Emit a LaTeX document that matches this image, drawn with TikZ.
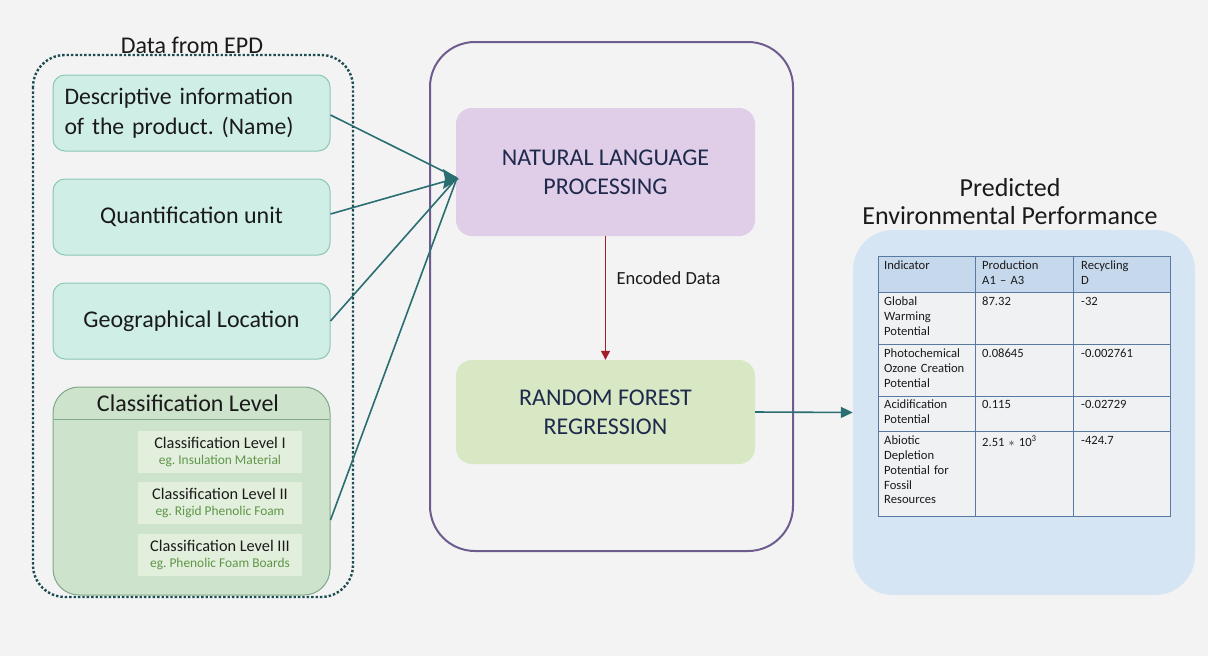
\documentclass[tikz,border=0pt]{standalone}
\usepackage{fontspec}
\setmainfont{Carlito}
\usetikzlibrary{arrows.meta,calc}
\definecolor{bg}{HTML}{F3F3F3}
\definecolor{tealfill}{HTML}{CFEEE6}
\definecolor{tealline}{HTML}{8CC6B8}
\definecolor{clsfill}{HTML}{CDE3CB}
\definecolor{clsline}{HTML}{7FA88C}
\definecolor{innerfill}{HTML}{E2EFDC}
\definecolor{subgreen}{HTML}{5E9548}
\definecolor{purpline}{HTML}{6E5C8E}
\definecolor{nlpfill}{HTML}{E0CDE8}
\definecolor{rfrfill}{HTML}{D8E8C4}
\definecolor{navy}{HTML}{1E2A4C}
\definecolor{arrteal}{HTML}{2A6E72}
\definecolor{arrred}{HTML}{A31E2A}
\definecolor{bluefill}{HTML}{D5E5F4}
\definecolor{tabhead}{HTML}{C6D8EC}
\definecolor{tabbody}{HTML}{EFF1F3}
\definecolor{tabline}{HTML}{5879A0}
\definecolor{txt}{HTML}{1A1A1A}
\frenchspacing
\tikzset{
  inbox/.style={draw=tealline,fill=tealfill,line width=1pt,rounded corners=12pt,minimum width=277pt,minimum height=76pt,inner sep=0pt,text=txt},
  subbox/.style={fill=innerfill,minimum width=164pt,minimum height=42pt,inner sep=0pt,align=center,text=txt,font=\fontsize{16.3}{17}\selectfont},
  procbox/.style={rounded corners=16pt,minimum width=299pt,inner sep=0pt,align=center,text=navy,font=\fontsize{24}{29}\selectfont},
  conn/.style={draw=arrteal,line width=1.6pt},
  cell/.style={anchor=north west,inner sep=0pt,align=left,text=txt,font=\fontsize{12.6}{14.7}\selectfont,text width=92pt},
}
\begin{document}
\begin{tikzpicture}[x=1pt,y=-1pt]
\fill[bg] (0,0) rectangle (1208,656);
\useasboundingbox (0,0) rectangle (1208,656);
% left group
\draw[arrteal!70!black,line width=2.4pt,dotted,rounded corners=32pt] (33,55) rectangle (353,597);
\node[font=\fontsize{24}{26}\selectfont,text=txt] (title) at (192,45) {Data from EPD};
\node[inbox,text width=254pt,align=left,font=\fontsize{23.7}{30}\selectfont] (b1) at (191.5,113) {Descriptive information\\of the product. (Name)};
\node[inbox,font=\fontsize{24}{26}\selectfont] (b2) at (191.5,217) {Quantification unit};
\node[inbox,font=\fontsize{24}{26}\selectfont] (b3) at (191.5,321) {Geographical Location};
\node[draw=clsline,fill=clsfill,line width=1pt,rounded corners=26pt,minimum width=277pt,minimum height=208pt,inner sep=0pt] (cls) at (191.5,491) {};
\draw[clsline,line width=0.8pt] (54,419) -- (329,419);
\node[font=\fontsize{24}{26}\selectfont,text=txt] (clst) at (188,403) {Classification Level};
\node[subbox] (c1) at (220,452) {Classification Level I\\[-1pt]{\fontsize{13.4}{15}\selectfont\color{subgreen}eg. Insulation Material}};
\node[subbox] (c2) at (220,503) {Classification Level II\\[-1pt]{\fontsize{13.4}{15}\selectfont\color{subgreen}eg. Rigid Phenolic Foam}};
\node[subbox] (c3) at (220,555) {Classification Level III\\[-1pt]{\fontsize{13.4}{15}\selectfont\color{subgreen}eg. Phenolic Foam Boards}};
% middle
\draw[purpline,line width=2pt,rounded corners=45pt] (430,42) rectangle (793,551);
\node[procbox,fill=nlpfill,minimum height=128pt] (nlp) at (605.5,172) {NATURAL LANGUAGE\\PROCESSING};
\node[procbox,fill=rfrfill,minimum height=104pt] (rfr) at (605.5,412) {RANDOM FOREST\\REGRESSION};
\draw[arrred,line width=1.3pt,-{Triangle[length=9pt,width=9pt]}] (nlp.south) -- (rfr.north);
\node[font=\fontsize{18.5}{20}\selectfont,text=txt,anchor=west] (enc) at (613,278) {Encoded Data};
\coordinate (tip) at (457,178);
\draw[conn] (b1.east) ++(0,2) -- (tip);
\draw[conn] (b2.east) ++(0,-3) -- (tip);
\draw[conn] (b3.east) -- (tip);
\draw[conn] ($(cls.east)+(0,29)$) -- (tip);
\fill[arrteal] (tip) ++(2,1) -- ++(-16,-10) -- ++(2,10) -- ++(-2,10) -- cycle;
% right
\node[font=\fontsize{26}{28}\selectfont,text=txt,align=center] (pred) at (1010,202) {Predicted\\Environmental Performance};
\node[fill=bluefill,rounded corners=40pt,minimum width=342pt,minimum height=365pt,inner sep=0pt] (blue) at (1024,412.5) {};
\draw[conn,-{Triangle[length=12pt,width=11pt]}] (rfr.east) -- (blue.west);
% table
\fill[tabbody] (878,292) rectangle (1170,516);
\fill[tabhead] (878,256) rectangle (1170,292);
\draw[tabline,line width=1pt] (878,256) rectangle (1170,516);
\foreach \yy in {292,344,396,431} {\draw[tabline,line width=1pt] (878,\yy) -- (1170,\yy);}
\foreach \xx in {975,1073} {\draw[tabline,line width=1pt] (\xx,256) -- (\xx,516);}
\node[cell] (h1) at (884,261) {Indicator};
\node[cell] (h2) at (982,261) {Production\\A1 -- A3};
\node[cell] (h3) at (1081,261) {Recycling\\D};
\node[cell] (r11) at (884,297) {Global\\Warming\\Potential};
\node[cell] (r12) at (982,297) {87.32};
\node[cell] (r13) at (1081,297) {-32};
\node[cell] (r21) at (884,349) {Photochemical\\Ozone Creation\\Potential};
\node[cell] (r22) at (982,349) {0.08645};
\node[cell] (r23) at (1081,349) {-0.002761};
\node[cell] (r31) at (884,400) {Acidification\\Potential};
\node[cell] (r32) at (982,400) {0.115};
\node[cell] (r33) at (1081,400) {-0.02729};
\node[cell] (r41) at (884,436) {Abiotic\\Depletion\\Potential for\\Fossil\\Resources};
\node[cell] (r42) at (982,436) {2.51 $*$ 10\textsuperscript{3}};
\node[cell] (r43) at (1081,436) {-424.7};
\end{tikzpicture}
\end{document}
